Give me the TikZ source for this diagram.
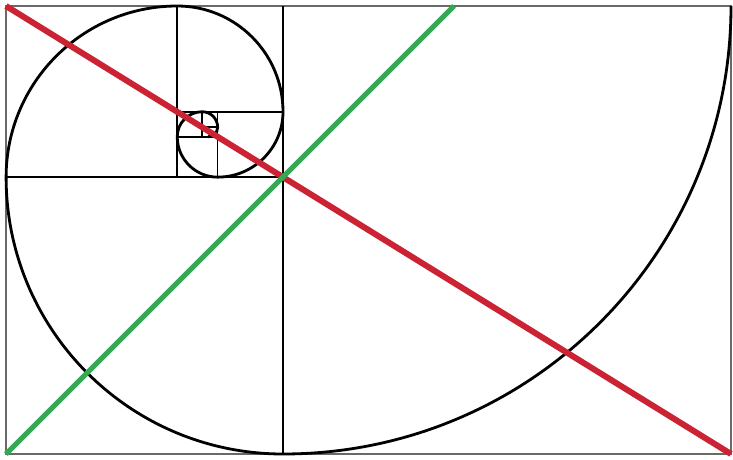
\documentclass[tikz,border=0pt]{standalone}
\definecolor{diagred}{RGB}{203,35,52}
\definecolor{diaggreen}{RGB}{52,168,82}
\definecolor{framegray}{RGB}{105,105,105}
\tikzset{
  framestyle/.style={draw=framegray,line width=1.6pt},
  gridline/.style={draw=black,line width=1.8pt},
  spiralline/.style={draw=black,line width=2.8pt},
  redline/.style={draw=diagred,line width=6pt},
  greenline/.style={draw=diaggreen,line width=5.2pt}
}
\begin{document}
\begin{tikzpicture}[x=1pt,y=-1pt]
\useasboundingbox (0,0) rectangle (733,460);
\fill[white] (0,0) rectangle (733,460);
% corners
\coordinate (TL) at (6,6);
\coordinate (TR) at (731,6);
\coordinate (BL) at (6,454);
\coordinate (BR) at (731,454);
\coordinate (G) at (454,6);
% frame
\draw[framestyle] (TL) rectangle (BR);
% grid lines
\draw[gridline] (282.88,6) -- (282.88,454);
\draw[gridline] (6,177.12) -- (282.88,177.12);
\draw[gridline] (177.12,6) -- (177.12,177.12);
\draw[gridline] (177.12,111.76) -- (282.88,111.76);
\draw[gridline] (217.52,111.76) -- (217.52,177.12);
\draw[gridline] (177.12,136.72) -- (217.52,136.72);
\draw[gridline] (202.09,111.76) -- (202.09,136.72);
\draw[gridline] (202.09,127.19) -- (217.52,127.19);
% spiral
\draw[spiralline] (TR)
  arc[start angle=0,end angle=90,radius=448]
  arc[start angle=90,end angle=180,radius=276.88]
  arc[start angle=180,end angle=270,radius=171.12]
  arc[start angle=270,end angle=360,radius=105.76]
  arc[start angle=0,end angle=90,radius=65.36]
  arc[start angle=90,end angle=180,radius=40.40]
  arc[start angle=180,end angle=270,radius=24.97]
  arc[start angle=270,end angle=360,radius=15.43]
  arc[start angle=0,end angle=90,radius=9.54];
% diagonals
\draw[redline] (TL) -- (BR);
\draw[greenline] (BL) -- (G);
\end{tikzpicture}
\end{document}
